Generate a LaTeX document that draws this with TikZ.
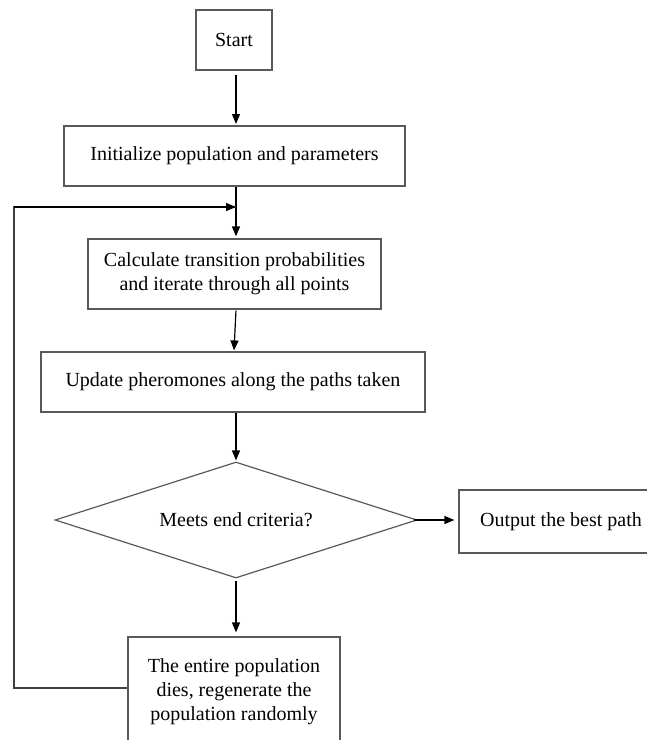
\documentclass[tikz,border=0pt]{standalone}
\usepackage{fontspec}
\setmainfont{Liberation Serif}
\usetikzlibrary{arrows.meta,shapes.geometric}
\begin{document}
\begin{tikzpicture}[x=1pt,y=-1pt,
  box/.style={draw=black!65,line width=1.2pt,inner sep=0pt,align=center,font=\fontsize{20}{24}\selectfont},
  flow/.style={draw=black,line width=1.2pt,-{Triangle[length=10pt,width=8pt]}},
  plain/.style={draw=black!75,line width=1.2pt}]
\useasboundingbox (0,0) rectangle (647,740);
\node[box,minimum width=76pt,minimum height=60pt] (start) at (234,40) {Start};
\node[box,minimum width=341pt,minimum height=60pt] (init) at (234.5,156) {Initialize population and parameters};
\node[box,minimum width=293pt,minimum height=70pt] (calc) at (234.5,274) {Calculate transition probabilities\\and iterate through all points};
\node[box,minimum width=384pt,minimum height=60pt] (upd) at (233,382) {Update pheromones along the paths taken};
\node[box,diamond,shape aspect=3.1,minimum width=362pt,minimum height=116pt] (dec) at (236,520) {Meets end criteria?};
\node[box,minimum width=204pt,minimum height=63pt] (out) at (561,521.5) {Output the best path};
\node[box,minimum width=212pt,minimum height=110pt] (regen) at (234,692) {The entire population\\dies, regenerate the\\population randomly};
\coordinate (join) at (236,207);
\coordinate (lpc) at (14,688);
\draw[flow,shorten <=4pt,shorten >=2pt] (start.south -| 236,0) -- (236,126);
\draw[flow,shorten >=2pt] (init.south -| 236,0) -- (calc.north -| 236,0);
\draw[flow,shorten <=1pt,shorten >=1pt] (calc.south -| 236,0) -- (upd.north -| 234,0);
\draw[flow,shorten >=1pt] (upd.south -| 236,0) -- (dec.north);
\draw[flow,shorten >=4pt] ([xshift=-4pt]dec.east) -- (out.west |- dec.east);
\draw[flow,shorten <=2pt,shorten >=4pt] (dec.south) -- (regen.north -| dec.south);
\draw[plain] (regen.west |- lpc) -- (lpc) -- (14,207) -- (join);
\draw[flow] (14,207) -- (join);
\end{tikzpicture}
\end{document}
